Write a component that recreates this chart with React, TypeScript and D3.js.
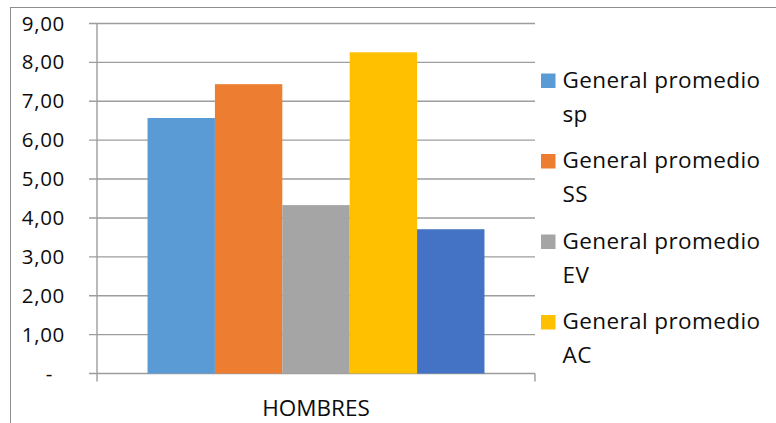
import { scaleBand, scaleLinear } from "d3";

const categories = ["HOMBRES"];
const seriesNames = [
  "General promedio sp",
  "General promedio SS",
  "General promedio EV",
  "General promedio AC",
  "General promedio",
];
const seriesValues = [6.57, 7.44, 4.33, 8.26, 3.71];
const seriesColors = ["#5B9BD5", "#ED7D31", "#A5A5A5", "#FFC000", "#4472C4"];
const yTicks = [0, 1, 2, 3, 4, 5, 6, 7, 8, 9];
const yTickLabels = ["-", "1,00", "2,00", "3,00", "4,00", "5,00", "6,00", "7,00", "8,00", "9,00"];
// legend only fits the first four series in the original
const legendLines = [
  ["General promedio", "sp"],
  ["General promedio", "SS"],
  ["General promedio", "EV"],
  ["General promedio", "AC"],
];

const totalWidth = 776;
const totalHeight = 423;
const plotLeft = 97;
const plotRight = 535;
const plotTop = 23.5;
const plotBottom = 373.5;
const font = "'Open Sans', 'Noto Sans', sans-serif";

export default function App() {
  const yScale = scaleLinear().domain([0, 9]).range([plotBottom, plotTop]);
  const xScale = scaleBand<string>()
    .domain(categories)
    .range([plotLeft, plotRight])
    .paddingInner(0)
    .paddingOuter(0.15);
  const seriesScale = scaleBand<string>()
    .domain(seriesNames)
    .range([0, xScale.bandwidth()])
    .padding(0);

  return (
    <svg
      width={totalWidth}
      height={totalHeight}
      viewBox={`0 0 ${totalWidth} ${totalHeight}`}
      style={{ position: "absolute", left: 0, top: 0, background: "white" }}
    >
      <rect x={10.5} y={7.5} width={totalWidth} height={totalHeight} fill="white" stroke="#8e8e8e" strokeWidth={1} />

      {/* gridlines + y ticks */}
      {yTicks.map((t, i) => (
        <g key={t}>
          <line x1={89} x2={plotRight} y1={yScale(t)} y2={yScale(t)} stroke="#9d9d9d" strokeWidth={1.4} />
          <text
            x={65}
            dx={i === 0 ? -12 : 0}
            y={yScale(t) + 7}
            textAnchor="end"
            fontFamily={font}
            fontSize={20.5}
            letterSpacing={0.7}
            fill="#0d0d0d"
          >
            {yTickLabels[i]}
          </text>
        </g>
      ))}
      <line x1={plotLeft} x2={plotLeft} y1={plotTop} y2={plotBottom + 8} stroke="#9d9d9d" strokeWidth={1.4} />
      <line x1={plotRight} x2={plotRight} y1={plotBottom} y2={plotBottom + 8} stroke="#9d9d9d" strokeWidth={1.4} />

      {/* bars */}
      {categories.map((c) => (
        <g key={c} transform={`translate(${xScale(c)}, 0)`}>
          {seriesNames.map((s, i) => (
            <rect
              key={s}
              x={seriesScale(s)}
              y={yScale(seriesValues[i])}
              width={seriesScale.bandwidth()}
              height={yScale(0) - yScale(seriesValues[i])}
              fill={seriesColors[i]}
            />
          ))}
          <text
            x={xScale.bandwidth() / 2}
            y={415.5}
            textAnchor="middle"
            fontFamily={font}
            fontSize={22.5}
            fill="#0d0d0d"
          >
            {c}
          </text>
        </g>
      ))}

      {/* legend */}
      {legendLines.map((lines, i) => (
        <g key={i} transform={`translate(541, ${73.5 + i * 80.5})`}>
          <rect x={0} y={0} width={14.5} height={14.5} fill={seriesColors[i]} />
          {lines.map((l, j) => (
            <text
              key={j}
              x={21.5}
              y={14 + j * 34}
              fontFamily={font}
              fontSize={22.5}
              letterSpacing={0.4}
              fill="#0d0d0d"
            >
              {l}
            </text>
          ))}
        </g>
      ))}
    </svg>
  );
}
